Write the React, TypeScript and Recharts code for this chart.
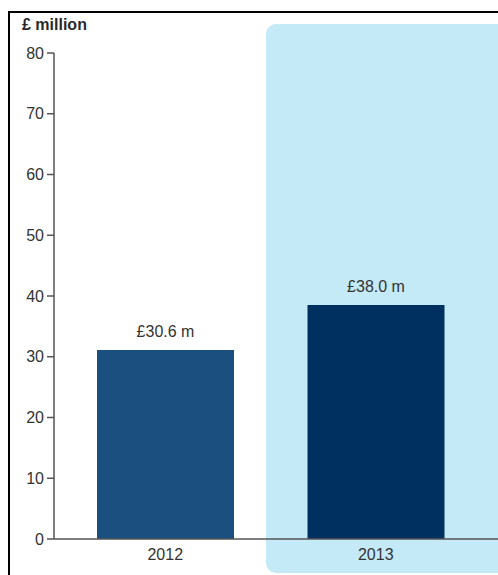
import React from "react";
import { BarChart, Bar, XAxis, YAxis, Cell, LabelList } from "recharts";

const years = ["2012", "2013"];
const values = [31.1, 38.5];
const valueLabels = ["£30.6 m", "£38.0 m"];
const barColors = ["#1a4f7f", "#00305f"];
const yTicks = [0, 10, 20, 30, 40, 50, 60, 70, 80];

const data = years.map((y, i) => ({ year: y, value: values[i], label: valueLabels[i] }));

const FONT = "'Liberation Sans', Arial, sans-serif";

export default function App() {
  return (
    <div
      style={{
        position: "absolute",
        left: 0,
        top: 0,
        width: 498,
        height: 575,
        overflow: "hidden",
        background: "#fff",
        fontFamily: FONT,
      }}
    >
      <div
        style={{
          position: "absolute",
          left: 8,
          top: 11,
          width: 520,
          height: 600,
          borderLeft: "2px solid #000",
          borderTop: "2px solid #000",
          boxSizing: "border-box",
        }}
      />
      <div
        style={{
          position: "absolute",
          left: 266,
          top: 24,
          width: 260,
          height: 549,
          borderRadius: 10,
          background: "#c4eaf8",
        }}
      />
      <div
        style={{
          position: "absolute",
          left: 22,
          top: 15,
          fontSize: 16,
          fontWeight: "bold",
          color: "#2a2a2a",
          lineHeight: "20px",
          whiteSpace: "nowrap",
        }}
      >
        £ million
      </div>
      <div style={{ position: "absolute", left: 0, top: 0 }}>
        <BarChart
          width={498}
          height={575}
          data={data}
          margin={{ top: 53, right: 0, bottom: 0, left: 0 }}
          barSize={137}
        >
          <XAxis
            dataKey="year"
            height={36}
            padding={{ left: 6, right: 17 }}
            tickLine={false}
            tickMargin={4}
            axisLine={{ stroke: "#555", strokeWidth: 1.5 }}
            tick={{ fill: "#333", fontSize: 16, fontFamily: FONT }}
          />
          <YAxis
            width={54}
            domain={[0, 80]}
            ticks={yTicks}
            interval={0}
            tickSize={7}
            tickMargin={3}
            axisLine={{ stroke: "#555", strokeWidth: 1.5 }}
            tickLine={{ stroke: "#555", strokeWidth: 1.5 }}
            tick={{ fill: "#333", fontSize: 16, fontFamily: FONT }}
          />
          <Bar dataKey="value" isAnimationActive={false}>
            {data.map((d, i) => (
              <Cell key={d.year} fill={barColors[i]} />
            ))}
            <LabelList
              dataKey="label"
              position="top"
              offset={13}
              style={{ fill: "#333", fontSize: 16, fontFamily: FONT }}
            />
          </Bar>
        </BarChart>
      </div>
    </div>
  );
}
